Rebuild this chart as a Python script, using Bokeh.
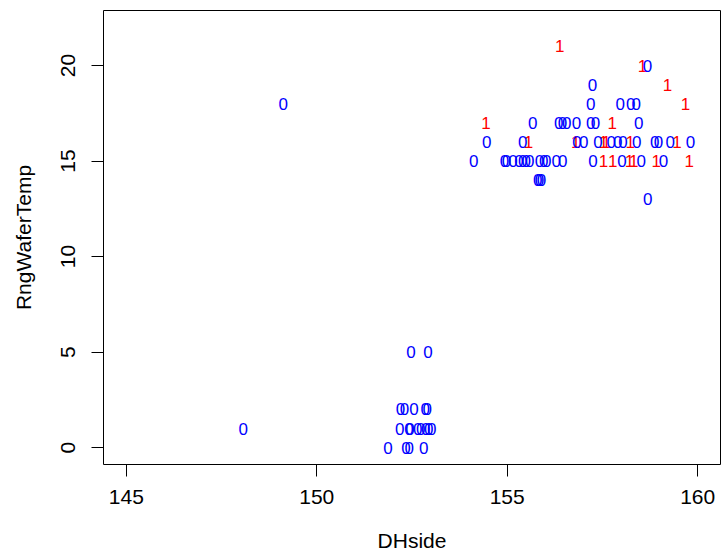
from bokeh.plotting import figure
from bokeh.models import ColumnDataSource, Range1d, FixedTicker
from bokeh.core.properties import value
from bokeh.embed import file_html
from bokeh.resources import INLINE

# ---- data ----
# label 1 (red)
dh_1 = [157.53, 157.77, 158.21, 158.32, 158.91, 159.78,
        155.56, 156.80, 157.53, 157.60, 158.23, 159.46,
        154.44, 157.76,
        159.68, 159.21, 158.55, 156.38]
rng_1 = [15, 15, 15, 15, 15, 15,
         16, 16, 16, 16, 16, 16,
         17, 17,
         18, 19, 20, 21]

# label 0 (blue)
dh_0 = [151.87, 152.34, 152.43, 152.81,
        148.07, 152.18, 152.42, 152.45, 152.65, 152.73, 152.86, 152.94, 153.02,
        152.20, 152.30, 152.55, 152.85, 152.90,
        152.47, 152.92,
        158.69,
        155.80, 155.85, 155.90,
        154.12, 154.93, 154.98, 155.15, 155.31, 155.41, 155.50, 155.59, 155.85,
        155.96, 156.04, 156.29, 156.46, 157.25, 158.01, 158.52, 159.10,
        154.46, 155.41, 156.83, 157.01, 157.38, 157.73, 157.90, 158.04, 158.40,
        158.87, 158.97, 159.28, 159.81,
        155.67, 156.35, 156.45, 156.56, 156.82, 157.19, 157.32, 158.45,
        149.12, 157.19, 157.97, 158.24, 158.39,
        157.24,
        158.68]
rng_0 = [0, 0, 0, 0,
         1, 1, 1, 1, 1, 1, 1, 1, 1,
         2, 2, 2, 2, 2,
         5, 5,
         13,
         14, 14, 14,
         15, 15, 15, 15, 15, 15, 15, 15, 15,
         15, 15, 15, 15, 15, 15, 15, 15,
         16, 16, 16, 16, 16, 16, 16, 16, 16,
         16, 16, 16, 16,
         17, 17, 17, 17, 17, 17, 17, 17,
         18, 18, 18, 18, 18,
         19,
         20]

x_ticks = [145, 150, 155, 160]
y_ticks = [0, 5, 10, 15, 20]

FONT = "Liberation Sans"

p = figure(width=721, height=556,
           x_range=Range1d(144.4, 160.6), y_range=Range1d(-0.88, 22.88),
           min_border_left=103, min_border_right=1, min_border_top=10,
           min_border_bottom=92,
           output_backend="svg", toolbar_location=None)

p.background_fill_color = "white"
p.border_fill_color = "white"
p.outline_line_color = "black"
p.outline_line_width = 1
p.xgrid.visible = False
p.ygrid.visible = False

src1 = ColumnDataSource(dict(x=dh_1, y=rng_1, t=["1"] * len(dh_1)))
src0 = ColumnDataSource(dict(x=dh_0, y=rng_0, t=["0"] * len(dh_0)))

for src, col in ((src1, "#FF0000"), (src0, "#0000FF")):
    p.text(x="x", y="y", text="t", source=src,
           text_color=col, text_font=value(FONT), text_font_size="17px",
           text_align="center", text_baseline="middle")

for ax in (p.xaxis[0], p.yaxis[0]):
    ax.axis_line_color = None
    ax.major_tick_line_color = "black"
    ax.major_tick_in = 0
    ax.major_tick_out = 12
    ax.minor_tick_line_color = None
    ax.major_label_text_font = FONT
    ax.major_label_text_font_size = "21px"
    ax.major_label_text_color = "black"
    ax.axis_label_text_font = FONT
    ax.axis_label_text_font_size = "21px"
    ax.axis_label_text_font_style = "normal"
    ax.axis_label_text_color = "black"

p.xaxis[0].ticker = FixedTicker(ticks=x_ticks)
p.yaxis[0].ticker = FixedTicker(ticks=y_ticks)
p.xaxis[0].axis_label = "DHside"
p.yaxis[0].axis_label = "RngWaferTemp"
p.xaxis[0].major_label_standoff = 13
p.xaxis[0].axis_label_standoff = 22
p.yaxis[0].major_label_orientation = "vertical"
p.yaxis[0].major_label_standoff = 16
p.yaxis[0].axis_label_standoff = 24

open("out.html", "w").write(file_html(p, INLINE))
